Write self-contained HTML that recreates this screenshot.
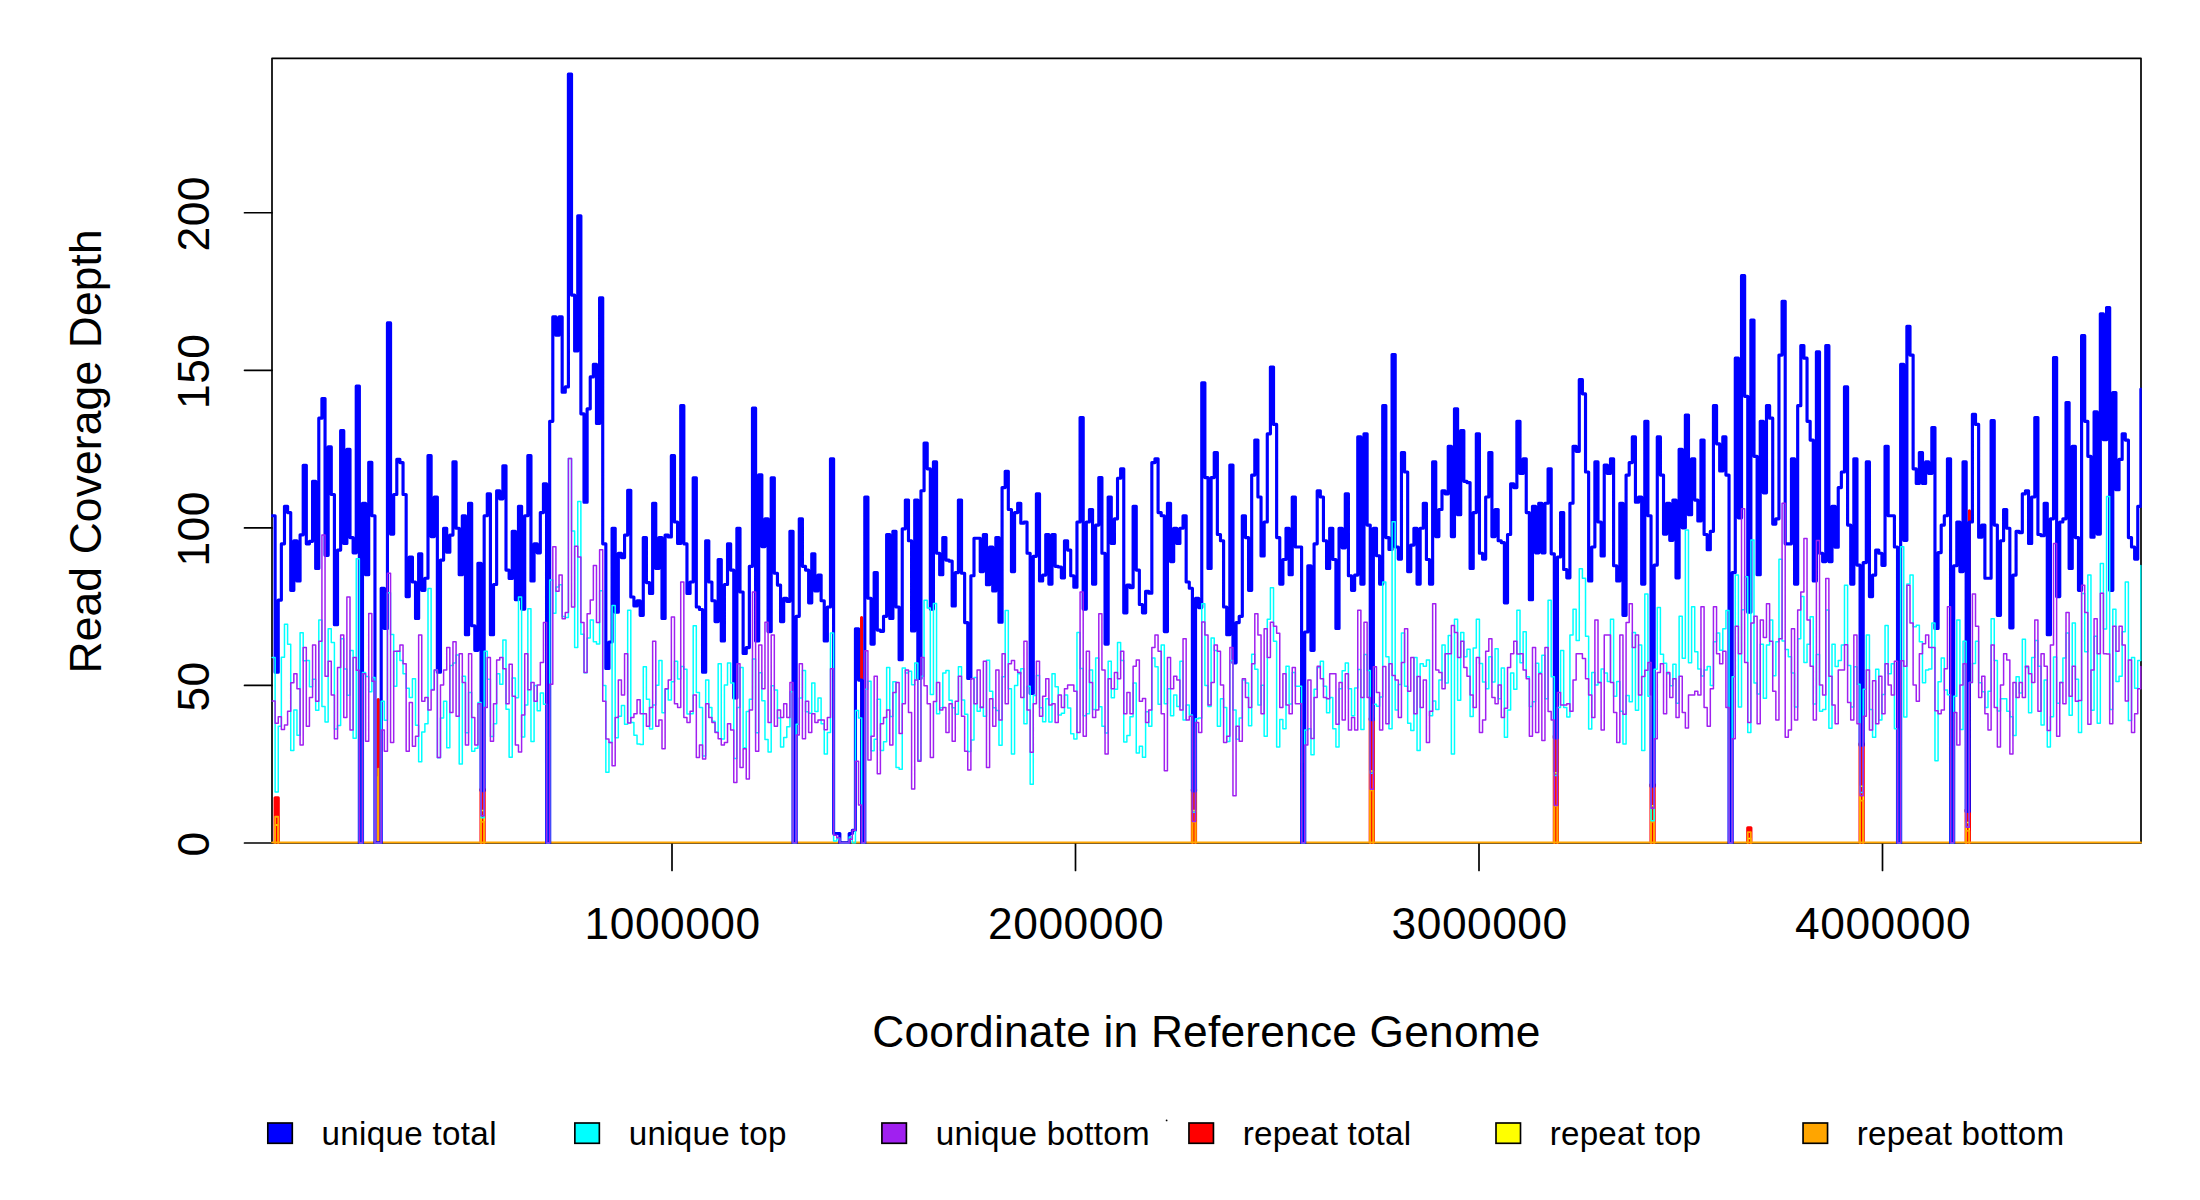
<!DOCTYPE html><html><head><meta charset="utf-8"><title>coverage</title><style>html,body{margin:0;padding:0;background:#fff}body{width:2200px;height:1200px;overflow:hidden}svg{display:block}text{font-family:"Liberation Sans",sans-serif;fill:#000}</style></head><body>
<svg width="2200" height="1200" viewBox="0 0 2200 1200">
<rect width="2200" height="1200" fill="#fff"/>
<defs><clipPath id="c"><rect x="271.20" y="57.50" width="1870.60" height="786.30"/></clipPath></defs>
<g fill="none" stroke="#000" stroke-width="1.7" stroke-linecap="round" stroke-linejoin="round">
<rect x="272.00" y="58.30" width="1869.00" height="784.70"/>
<path d="M272.00 843.00H244.50"/>
<path d="M272.00 685.44H244.50"/>
<path d="M272.00 527.88H244.50"/>
<path d="M272.00 370.31H244.50"/>
<path d="M272.00 212.75H244.50"/>
<path d="M672.00 843.00V870.50"/>
<path d="M1075.50 843.00V870.50"/>
<path d="M1479.00 843.00V870.50"/>
<path d="M1882.50 843.00V870.50"/>
</g>
<g clip-path="url(#c)" fill="none" stroke-linejoin="round" stroke-linecap="round">
<path d="M275.12 842.90V797.84 H278.24 V842.90M378.20 842.90V699.52 H378.20 V842.90M481.04 842.90V789.33 H484.16 V842.90M861.60 842.90V617.59 H861.60 V842.90M1192.40 842.90V789.33 H1195.52 V842.90M1370.24 842.90V718.43 H1373.36 V842.90M1554.32 842.90V735.76 H1557.44 V842.90M1651.04 842.90V784.60 H1654.16 V842.90M1747.76 842.90V827.77 H1750.88 V842.90M1860.08 842.90V743.64 H1863.20 V842.90M1966.16 842.90V809.81 H1969.28 V842.90M1969.40 842.90V510.76 H1969.40 V842.90" stroke="#ff0000" stroke-width="3.15"/>
<path d="M275.12 842.90V824.94 H278.24 V842.90M378.20 842.90V776.72 H378.20 V842.90M481.04 842.90V810.44 H484.16 V842.90M861.60 842.90V748.36 H861.60 V842.90M1192.40 842.90V810.44 H1195.52 V842.90M1370.24 842.90V771.05 H1373.36 V842.90M1554.32 842.90V772.63 H1557.44 V842.90M1651.04 842.90V805.72 H1654.16 V842.90M1747.76 842.90V838.49 H1750.88 V842.90M1860.08 842.90V786.18 H1863.20 V842.90M1966.16 842.90V822.42 H1969.28 V842.90" stroke="#ffff00" stroke-width="1.5"/>
<path d="M275.12 842.90V816.74 H278.24 V842.90M378.20 842.90V768.53 H378.20 V842.90M481.04 842.90V821.79 H484.16 V842.90M1192.40 842.90V821.79 H1195.52 V842.90M1370.24 842.90V790.27 H1373.36 V842.90M1554.32 842.90V806.03 H1557.44 V842.90M1651.04 842.90V821.79 H1654.16 V842.90M1747.76 842.90V832.19 H1750.88 V842.90M1860.08 842.90V800.67 H1863.20 V842.90M1966.16 842.90V830.93 H1969.28 V842.90" stroke="#ffa500" stroke-width="1.8"/>
<path d="M272.00 842.55H2141.00" stroke="#ffa500" stroke-width="2.1"/>
<path d="M272.00 515.70H275.12V672.19H278.24V600.08H281.36V543.83H284.48V506.32H287.60V512.57H290.72V590.30H293.84V540.70H296.96V580.93H300.08V534.83H303.20V465.32H306.32V543.83H309.44V541.33H312.56V481.32H315.68V568.43H318.80V418.19H321.92V398.57H325.04V555.30H328.16V446.94H331.28V494.45H334.40V624.68H337.52V550.08H340.64V430.69H343.76V543.43H346.88V449.44H350.00V537.58H353.12V552.80H356.24V385.97H359.36V842.90H362.48V503.20H365.60V574.68H368.72V462.32H371.84V515.70H374.96V842.90H378.08V842.90H381.20V588.20H384.32V628.43H387.44V322.94H390.56V534.05H393.68V494.45H396.80V459.44H399.92V462.57H403.04V494.45H406.16V596.56H409.28V556.95H412.40V581.95H415.52V618.43H418.64V553.83H421.76V590.30H424.88V578.20H428.00V455.69H431.12V536.55H434.24V496.95H437.36V672.19H440.48V560.08H443.60V528.20H446.72V552.18H449.84V535.08H452.96V461.94H456.08V528.20H459.20V574.68H462.32V515.70H465.44V634.68H468.56V503.20H471.68V625.71H474.80V650.31H477.92V563.20H481.04V790.59H484.16V515.70H487.28V493.82H490.40V634.68H493.52V584.45H496.64V490.70H499.76V498.82H502.88V465.70H506.00V570.08H509.12V578.43H512.24V531.33H515.36V599.68H518.48V506.32H521.60V609.06H524.72V515.70H527.84V455.69H530.96V580.93H534.08V543.83H537.20V552.80H540.32V512.57H543.44V483.82H546.56V842.90H549.68V421.32H552.80V316.93H555.92V335.28H559.04V316.93H562.16V392.16H565.28V386.94H568.40V74.00H571.52V295.06H574.64V350.91H577.76V215.80H580.88V413.82H584.00V502.17H587.12V408.82H590.24V376.94H593.36V364.44H596.48V423.42H599.60V297.73H602.72V543.83H605.84V668.44H608.96V641.96H612.08V528.20H615.20V612.18H618.32V553.20H621.44V557.58H624.56V535.08H627.68V490.32H630.80V596.96H633.92V605.93H637.04V600.71H640.16V615.31H643.28V537.58H646.40V582.58H649.52V593.43H652.64V503.20H655.76V568.43H658.88V537.58H662.00V618.43H665.12V535.08H668.24V536.95H671.36V455.69H674.48V521.95H677.60V543.43H680.72V405.69H683.84V543.83H686.96V593.43H690.08V581.95H693.20V477.82H696.32V606.96H699.44V609.46H702.56V672.19H705.68V540.70H708.80V581.95H711.92V600.71H715.04V621.56H718.16V559.45H721.28V640.93H724.40V584.45H727.52V543.83H730.64V570.08H733.76V697.94H736.88V528.20H740.00V591.96H743.12V653.43H746.24V647.58H749.36V566.33H752.48V408.19H755.60V640.93H758.72V474.82H761.84V546.55H764.96V518.82H768.08V631.56H771.20V477.82H774.32V573.20H777.44V585.08H780.56V621.56H783.68V598.21H786.80V601.33H789.92V531.33H793.04V842.90H796.16V616.33H799.28V518.82H802.40V566.33H805.52V570.08H808.64V602.81H811.76V553.83H814.88V590.93H818.00V575.08H821.12V600.71H824.24V640.93H827.36V606.96H830.48V458.82H833.60V833.45H836.72V833.45H839.84V842.90H842.96V842.90H846.08V842.90H849.20V833.45H852.32V830.29H855.44V628.83H858.56V680.09H861.68V842.90H864.80V496.95H867.92V598.21H871.04V644.06H874.16V572.58H877.28V630.08H880.40V631.33H883.52V616.33H886.64V534.45H889.76V618.43H892.88V531.33H896.00V606.96H899.12V659.69H902.24V528.83H905.36V500.07H908.48V540.70H911.60V630.93H914.72V500.07H917.84V678.44H920.96V490.70H924.08V443.19H927.20V468.82H930.32V609.06H933.44V461.94H936.56V553.20H939.68V574.68H942.80V537.58H945.92V560.08H949.04V561.08H952.16V605.93H955.28V572.58H958.40V500.07H961.52V573.20H964.64V622.58H967.76V678.44H970.88V575.70H974.00V538.20H977.12V538.20H980.24V571.55H983.36V534.45H986.48V584.68H989.60V546.95H992.72V590.93H995.84V537.58H998.96V622.18H1002.08V487.57H1005.20V471.32H1008.32V509.45H1011.44V571.55H1014.56V512.57H1017.68V503.20H1020.80V523.20H1023.92V521.95H1027.04V553.20H1030.16V693.44H1033.28V556.33H1036.40V493.82H1039.52V580.93H1042.64V575.08H1045.76V534.45H1048.88V584.05H1052.00V534.45H1055.12V566.33H1058.24V566.95H1061.36V577.80H1064.48V540.70H1067.60V550.08H1070.72V575.70H1073.84V587.18H1076.96V521.95H1080.08V417.57H1083.20V609.06H1086.32V521.95H1089.44V509.45H1092.56V584.05H1095.68V525.07H1098.80V477.57H1101.92V553.20H1105.04V644.06H1108.16V496.95H1111.28V543.43H1114.40V518.82H1117.52V478.20H1120.64V468.82H1123.76V612.81H1126.88V585.08H1130.00V587.58H1133.12V506.32H1136.24V570.08H1139.36V604.46H1142.48V612.81H1145.60V591.33H1148.72V593.21H1151.84V462.57H1154.96V458.82H1158.08V512.57H1161.20V515.70H1164.32V631.56H1167.44V503.20H1170.56V561.55H1173.68V528.20H1176.80V543.43H1179.92V528.20H1183.04V515.70H1186.16V581.95H1189.28V588.20H1192.40V790.90H1195.52V598.21H1198.64V607.58H1201.76V382.82H1204.88V477.57H1208.00V568.43H1211.12V477.57H1214.24V452.57H1217.36V534.45H1220.48V540.70H1223.60V606.96H1226.72V634.68H1229.84V465.07H1232.96V662.81H1236.08V622.58H1239.20V616.33H1242.32V515.70H1245.44V537.58H1248.56V590.30H1251.68V475.07H1254.80V440.07H1257.92V496.95H1261.04V555.93H1264.16V521.95H1267.28V433.82H1270.40V367.06H1273.52V424.44H1276.64V537.58H1279.76V584.05H1282.88V559.45H1286.00V528.20H1289.12V574.68H1292.24V496.95H1295.36V546.95H1298.48V546.95H1301.60V842.90H1304.72V631.96H1307.84V565.70H1310.96V650.31H1314.08V543.83H1317.20V490.70H1320.32V496.95H1323.44V540.70H1326.56V568.43H1329.68V528.20H1332.80V559.45H1335.92V628.43H1339.04V528.20H1342.16V547.80H1345.28V493.82H1348.40V575.70H1351.52V590.30H1354.64V575.08H1357.76V436.94H1360.88V584.05H1364.00V433.82H1367.12V525.07H1370.24V719.69H1373.36V528.20H1376.48V555.70H1379.60V584.05H1382.72V405.69H1385.84V537.58H1388.96V549.45H1392.08V354.46H1395.20V546.95H1398.32V559.05H1401.44V452.57H1404.56V471.95H1407.68V571.55H1410.80V545.08H1413.92V528.20H1417.04V584.05H1420.16V528.20H1423.28V503.20H1426.40V559.45H1429.52V584.05H1432.64V461.94H1435.76V536.55H1438.88V509.45H1442.00V490.70H1445.12V493.82H1448.24V446.32H1451.36V536.55H1454.48V408.82H1457.60V514.67H1460.72V430.69H1463.84V481.32H1466.96V482.57H1470.08V568.43H1473.20V512.57H1476.32V433.82H1479.44V553.20H1482.56V559.05H1485.68V496.95H1488.80V452.57H1491.92V536.55H1495.04V509.45H1498.16V540.70H1501.28V542.58H1504.40V602.81H1507.52V534.45H1510.64V483.82H1513.76V487.57H1516.88V421.32H1520.00V473.42H1523.12V458.82H1526.24V512.57H1529.36V599.68H1532.48V506.32H1535.60V552.80H1538.72V503.20H1541.84V552.80H1544.96V503.20H1548.08V468.82H1551.20V553.83H1554.32V737.96H1557.44V556.95H1560.56V512.57H1563.68V569.45H1566.80V577.80H1569.92V503.20H1573.04V446.32H1576.16V451.32H1579.28V379.67H1582.40V393.85H1585.52V471.95H1588.64V580.93H1591.76V546.95H1594.88V461.94H1598.00V521.95H1601.12V555.93H1604.24V465.07H1607.36V473.42H1610.48V458.82H1613.60V565.70H1616.72V580.93H1619.84V503.20H1622.96V615.31H1626.08V475.07H1629.20V462.57H1632.32V436.94H1635.44V502.17H1638.56V496.95H1641.68V584.05H1644.80V421.32H1647.92V515.70H1651.04V786.18H1654.16V565.08H1657.28V436.94H1660.40V475.07H1663.52V534.05H1666.64V503.20H1669.76V540.30H1672.88V500.07H1676.00V577.80H1679.12V449.44H1682.24V527.80H1685.36V415.07H1688.48V514.67H1691.60V458.82H1694.72V500.07H1697.84V520.92H1700.96V440.07H1704.08V534.45H1707.20V549.68H1710.32V531.33H1713.44V405.69H1716.56V443.82H1719.68V470.92H1722.80V436.94H1725.92V475.07H1729.04V842.90H1732.16V572.58H1735.28V358.19H1738.40V517.80H1741.52V275.68H1744.64V396.31H1747.76V612.18H1750.88V320.06H1754.00V456.32H1757.12V574.68H1760.24V421.32H1763.36V492.80H1766.48V405.69H1769.60V418.19H1772.72V524.05H1775.84V518.82H1778.96V355.06H1782.08V301.31H1785.20V543.83H1788.32V543.83H1791.44V458.82H1794.56V584.05H1797.68V405.69H1800.80V345.69H1803.92V358.19H1807.04V421.32H1810.16V440.07H1813.28V580.93H1816.40V351.94H1819.52V553.20H1822.64V561.55H1825.76V345.69H1828.88V561.55H1832.00V506.32H1835.12V547.18H1838.24V487.57H1841.36V471.95H1844.48V386.94H1847.60V525.07H1850.72V584.05H1853.84V458.82H1856.96V565.08H1860.08V745.21H1863.20V562.58H1866.32V461.94H1869.44V596.56H1872.56V575.08H1875.68V550.08H1878.80V553.20H1881.92V565.30H1885.04V446.32H1888.16V515.70H1891.28V515.70H1894.40V546.95H1897.52V842.90H1900.64V364.44H1903.76V540.30H1906.88V326.31H1910.00V355.06H1913.12V468.82H1916.24V483.42H1919.36V452.57H1922.48V483.42H1925.60V461.94H1928.72V473.42H1931.84V427.57H1934.96V628.43H1938.08V552.58H1941.20V525.07H1944.32V515.70H1947.44V458.82H1950.56V842.90H1953.68V565.70H1956.80V521.95H1959.92V571.55H1963.04V461.94H1966.16V811.39H1969.28V521.95H1972.40V414.44H1975.52V424.44H1978.64V537.18H1981.76V525.07H1984.88V578.20H1988.00V578.20H1991.12V420.69H1994.24V525.07H1997.36V615.31H2000.48V540.70H2003.60V509.45H2006.72V528.20H2009.84V627.81H2012.96V575.08H2016.08V531.33H2019.20V532.58H2022.32V493.82H2025.44V490.70H2028.56V543.43H2031.68V496.95H2034.80V417.57H2037.92V534.45H2041.04V535.70H2044.16V503.20H2047.28V634.68H2050.40V518.82H2053.52V357.56H2056.64V596.56H2059.76V521.95H2062.88V518.82H2066.00V402.57H2069.12V568.43H2072.24V446.32H2075.36V537.58H2078.48V590.30H2081.60V335.68H2084.72V421.32H2087.84V456.32H2090.96V537.18H2094.08V411.94H2097.20V534.05H2100.32V313.81H2103.44V439.67H2106.56V307.56H2109.68V590.30H2112.80V392.56H2115.92V489.67H2119.04V459.44H2122.16V433.82H2125.28V440.07H2128.40V537.58H2131.52V546.95H2134.64V559.05H2137.76V506.32H2140.88V389.12" stroke="#0000ff" stroke-width="3.15"/>
<path d="M272.00 657.51H275.12V791.93H278.24V726.13H281.36V657.27H284.48V624.33H287.60V644.33H290.72V750.57H293.84V709.96H296.96V735.19H300.08V632.83H303.20V660.84H306.32V660.59H309.44V686.84H312.56V679.34H315.68V710.19H318.80V619.96H321.92V706.45H325.04V722.07H328.16V628.71H331.28V642.46H334.40V728.94H337.52V725.59H340.64V638.71H343.76V668.94H346.88V695.24H350.00V650.58H353.12V738.32H356.24V558.66H359.36V842.90H362.48V672.46H365.60V676.44H368.72V691.73H371.84V677.46H374.96V842.90H378.08V842.90H381.20V701.21H384.32V720.19H387.44V592.69H390.56V634.56H393.68V686.21H396.80V651.21H399.92V660.59H403.04V673.71H406.16V688.31H409.28V697.46H412.40V678.71H415.52V725.19H418.64V761.81H421.76V732.07H424.88V723.72H428.00V588.59H431.12V689.56H434.24V669.96H437.36V757.69H440.48V718.09H443.60V701.21H446.72V747.69H449.84V665.59H452.96V662.99H456.08V654.96H459.20V763.94H462.32V676.21H465.44V732.69H468.56V692.46H471.68V751.22H474.80V748.32H477.92V702.46H481.04V817.69H484.16V651.21H487.28V679.34H490.40V736.44H493.52V723.72H496.64V673.71H499.76V684.34H502.88V639.96H506.00V709.34H509.12V757.19H512.24V678.09H515.36V697.69H518.48V597.10H521.60V737.07H524.72V704.96H527.84V608.76H530.96V741.44H534.08V685.59H537.20V710.81H540.32V693.09H543.44V704.34H546.56V842.90H549.68V580.09H552.80V613.15H555.92V587.05H559.04V584.79H562.16V616.43H565.28V617.46H568.40V458.45H571.52V530.93H574.64V647.52H577.76V501.62H580.88V634.33H584.00V672.69H587.12V638.08H590.24V619.96H593.36V641.75H596.48V643.93H599.60V590.80H602.72V685.59H605.84V772.31H608.96V742.47H612.08V605.41H615.20V737.69H618.32V716.21H621.44V705.59H624.56V724.34H627.68V610.34H630.80V722.47H633.92V735.19H637.04V743.95H640.16V744.57H643.28V666.84H646.40V699.34H649.52V728.94H652.64V704.96H655.76V685.19H658.88V660.59H662.00V712.69H665.12V689.34H668.24V699.96H671.36V681.64H674.48V661.21H677.60V678.94H680.72V666.61H683.84V669.34H686.96V713.94H690.08V713.71H693.20V625.83H696.32V692.46H699.44V707.46H702.56V756.01H705.68V679.96H708.80V707.46H711.92V721.22H715.04V732.07H718.16V663.71H721.28V738.94H724.40V684.96H727.52V663.09H730.64V683.09H733.76V758.45H736.88V707.46H740.00V667.46H743.12V747.69H746.24V711.55H749.36V699.34H752.48V659.03H755.60V732.69H758.72V672.84H761.84V700.81H764.96V739.41H768.08V752.07H771.20V685.80H774.32V689.96H777.44V718.09H780.56V747.07H783.68V737.47H786.80V726.84H789.92V691.84H793.04V842.90H796.16V724.34H799.28V698.09H802.40V670.59H805.52V711.84H808.64V713.31H811.76V683.09H814.88V711.44H818.00V698.09H821.12V723.72H824.24V754.03H827.36V732.47H830.48V633.08H833.60V841.06H836.72V838.69H839.84V842.90H842.96V842.90H846.08V842.90H849.20V837.11H852.32V842.90H855.44V710.59H858.56V718.09H861.68V842.90H864.80V689.17H867.92V681.21H871.04V750.82H874.16V739.34H877.28V699.34H880.40V750.59H883.52V741.84H886.64V667.46H889.76V716.44H892.88V681.84H896.00V767.47H899.12V769.16H902.24V668.09H905.36V673.09H908.48V671.21H911.60V684.82H914.72V663.09H917.84V760.19H920.96V676.21H924.08V600.25H927.20V608.08H930.32V694.56H933.44V603.40H936.56V713.71H939.68V707.69H942.80V673.09H945.92V670.59H949.04V700.34H952.16V707.69H955.28V714.34H958.40V666.84H961.52V699.96H964.64V714.34H967.76V751.44H970.88V739.97H974.00V677.46H977.12V711.21H980.24V707.06H983.36V716.21H986.48V660.19H989.60V691.21H992.72V707.69H995.84V710.59H998.96V745.19H1002.08V676.84H1005.20V610.58H1008.32V688.71H1011.44V754.03H1014.56V685.59H1017.68V673.71H1020.80V668.71H1023.92V723.72H1027.04V686.21H1030.16V784.19H1033.28V695.59H1036.40V675.59H1039.52V707.69H1042.64V721.84H1045.76V698.71H1048.88V722.07H1052.00V673.71H1055.12V686.84H1058.24V714.96H1061.36V713.31H1064.48V694.96H1067.60V708.09H1070.72V733.72H1073.84V738.94H1076.96V632.46H1080.08V668.41H1083.20V715.81H1086.32V713.71H1089.44V669.96H1092.56V709.56H1095.68V658.09H1098.80V706.67H1101.92V726.22H1105.04V732.92H1108.16V661.21H1111.28V697.69H1114.40V689.34H1117.52V642.46H1120.64V660.59H1123.76V742.07H1126.88V735.59H1130.00V716.84H1133.12V683.09H1136.24V753.09H1139.36V746.22H1142.48V757.19H1145.60V711.84H1148.72V726.22H1151.84V658.09H1154.96V666.84H1158.08V704.34H1161.20V644.96H1164.32V703.72H1167.44V688.71H1170.56V715.81H1173.68V694.96H1176.80V706.44H1179.92V661.21H1183.04V719.97H1186.16V704.96H1189.28V714.96H1192.40V812.33H1195.52V718.72H1198.64V718.09H1201.76V603.72H1204.88V685.59H1208.00V706.44H1211.12V638.08H1214.24V650.58H1217.36V726.22H1220.48V698.71H1223.60V707.46H1226.72V741.44H1229.84V660.59H1232.96V710.08H1236.08V739.34H1239.20V718.09H1242.32V679.96H1245.44V683.09H1248.56V725.82H1251.68V654.34H1254.80V669.16H1257.92V704.96H1261.04V685.19H1264.16V736.22H1267.28V619.33H1270.40V587.65H1273.52V641.21H1276.64V747.10H1279.76V719.57H1282.88V728.72H1286.00V666.21H1289.12V703.94H1292.24V672.46H1295.36V686.21H1298.48V686.21H1301.60V842.90H1304.72V729.97H1307.84V728.72H1310.96V754.66H1314.08V689.34H1317.20V667.46H1320.32V661.21H1323.44V686.21H1326.56V712.69H1329.68V697.46H1332.80V728.72H1335.92V747.10H1339.04V688.71H1342.16V670.81H1345.28V663.09H1348.40V688.71H1351.52V715.81H1354.64V688.09H1357.76V669.51H1360.88V729.57H1364.00V654.41H1367.12V670.59H1370.24V773.26H1373.36V704.23H1376.48V706.21H1379.60V697.06H1382.72V581.98H1385.84V656.84H1388.96V728.72H1392.08V521.79H1395.20V709.96H1398.32V684.56H1401.44V633.08H1404.56V686.21H1407.68V723.32H1410.80V730.59H1413.92V657.46H1417.04V750.57H1420.16V663.71H1423.28V666.21H1426.40V659.96H1429.52V715.81H1432.64V701.12H1435.76V709.56H1438.88V679.96H1442.00V644.96H1445.12V683.09H1448.24V635.58H1451.36V753.99H1454.48V619.33H1457.60V700.19H1460.72V632.46H1463.84V656.84H1466.96V649.33H1470.08V716.44H1473.20V648.08H1476.32V619.33H1479.44V663.50H1482.56V682.06H1485.68V688.71H1488.80V656.84H1491.92V682.06H1495.04V648.71H1498.16V698.71H1501.28V668.09H1504.40V737.33H1507.52V709.96H1510.64V673.09H1513.76V689.34H1516.88V610.34H1520.00V662.69H1523.12V631.83H1526.24V676.84H1529.36V706.44H1532.48V701.84H1535.60V663.31H1538.72V672.46H1541.84V655.22H1544.96V698.71H1548.08V600.25H1551.20V676.84H1554.32V775.46H1557.44V707.46H1560.56V650.58H1563.68V707.46H1566.80V717.07H1569.92V634.96H1573.04V609.33H1576.16V640.58H1579.28V568.74H1582.40V578.19H1585.52V636.21H1588.64V728.94H1591.76V672.46H1594.88V684.96H1598.00V682.46H1601.12V668.94H1604.24V673.09H1607.36V681.44H1610.48V619.33H1613.60V696.21H1616.72V681.44H1619.84V711.21H1622.96V743.95H1626.08V695.59H1629.20V701.75H1632.32V632.46H1635.44V710.19H1638.56V644.96H1641.68V750.57H1644.80V593.95H1647.92V696.21H1651.04V820.84H1654.16V669.34H1657.28V607.46H1660.40V654.34H1663.52V663.31H1666.64V673.71H1669.76V685.81H1672.88V664.34H1676.00V703.31H1679.12V616.21H1682.24V658.31H1685.36V529.98H1688.48V662.69H1691.60V606.83H1694.72V651.83H1697.84V668.94H1700.96V676.10H1704.08V669.96H1707.20V666.44H1710.32V685.59H1713.44V641.72H1716.56V633.08H1719.68V650.18H1722.80V628.71H1725.92V610.58H1729.04V842.90H1732.16V676.84H1735.28V574.95H1738.40V707.06H1741.52V609.71H1744.64V576.83H1747.76V732.61H1750.88V540.06H1754.00V683.09H1757.12V693.94H1760.24V644.33H1763.36V698.31H1766.48V644.96H1769.60V619.96H1772.72V675.81H1775.84V641.83H1778.96V559.33H1782.08V641.01H1785.20V649.39H1788.32V656.84H1791.44V673.09H1794.56V707.06H1797.68V638.71H1800.80V596.53H1803.92V662.60H1807.04V644.33H1810.16V616.83H1813.28V703.94H1816.40V654.46H1819.52V711.21H1822.64V709.56H1825.76V610.08H1828.88V728.32H1832.00V644.33H1835.12V666.44H1838.24V660.59H1841.36V644.96H1844.48V585.13H1847.60V665.59H1850.72V707.06H1853.84V666.84H1856.96V684.34H1860.08V792.48H1863.20V689.34H1866.32V634.96H1869.44V709.56H1872.56V737.33H1875.68V669.34H1878.80V719.97H1881.92V694.56H1885.04V625.58H1888.16V673.71H1891.28V663.71H1894.40V728.72H1897.52V842.90H1900.64V546.68H1903.76V717.07H1906.88V584.08H1910.00V575.04H1913.12V626.83H1916.24V625.18H1919.36V641.83H1922.48V682.69H1925.60V669.96H1928.72V668.94H1931.84V623.08H1934.96V760.65H1938.08V681.84H1941.20V658.09H1944.32V689.96H1947.44V694.85H1950.56V842.90H1953.68V696.21H1956.80V619.96H1959.92V729.57H1963.04V641.21H1966.16V827.14H1969.28V682.46H1972.40V663.39H1975.52V641.21H1978.64V682.69H1981.76V691.84H1984.88V707.46H1988.00V691.21H1991.12V618.71H1994.24V660.59H1997.36V711.10H2000.48V698.71H2003.60V698.71H2006.72V711.21H2009.84V716.67H2012.96V735.59H2016.08V676.84H2019.20V693.09H2022.32V639.33H2025.44V667.46H2028.56V712.69H2031.68V657.46H2034.80V640.58H2037.92V666.21H2041.04V724.97H2044.16V679.96H2047.28V747.10H2050.40V716.84H2053.52V656.93H2056.64V703.31H2059.76V682.46H2062.88V658.09H2066.00V633.08H2069.12V715.19H2072.24V623.08H2075.36V679.34H2078.48V732.61H2081.60V593.46H2084.72V651.83H2087.84V575.04H2090.96V710.19H2094.08V636.21H2097.20V723.32H2100.32V563.38H2103.44V628.93H2106.56V496.58H2109.68V709.56H2112.80V609.33H2115.92V681.44H2119.04V676.21H2122.16V631.83H2125.28V581.98H2128.40V720.59H2131.52V657.46H2134.64V688.31H2137.76V660.59H2140.88V565.59" stroke="#00ffff" stroke-width="1.5"/>
<path d="M272.00 701.09H275.12V723.15H278.24V716.85H281.36V729.45H284.48V724.89H287.60V711.14H290.72V682.64H293.84V673.64H296.96V688.64H300.08V744.89H303.20V647.38H306.32V726.14H309.44V697.39H312.56V644.88H315.68V701.14H318.80V641.13H321.92V535.02H325.04V676.14H328.16V661.14H331.28V694.89H334.40V738.64H337.52V667.39H340.64V634.88H343.76V717.39H346.88V597.10H350.00V729.89H353.12V657.39H356.24V670.21H359.36V842.90H362.48V673.64H365.60V741.14H368.72V613.49H371.84V681.14H374.96V842.90H378.08V842.90H381.20V729.89H384.32V751.14H387.44V573.15H390.56V742.39H393.68V651.13H396.80V651.13H399.92V644.88H403.04V663.64H406.16V751.14H409.28V702.39H412.40V746.14H415.52V736.14H418.64V634.92H421.76V701.14H424.88V697.39H428.00V710.00H431.12V689.89H434.24V669.89H437.36V757.39H440.48V684.89H443.60V669.89H446.72V647.38H449.84V712.39H452.96V641.85H456.08V716.14H459.20V653.63H462.32V682.39H465.44V744.89H468.56V653.63H471.68V717.39H474.80V744.89H477.92V703.64H481.04V815.80H484.16V707.39H487.28V657.39H490.40V741.14H493.52V703.64H496.64V659.89H499.76V657.39H502.88V668.64H506.00V703.64H509.12V664.14H512.24V696.14H515.36V744.89H518.48V752.12H521.60V714.89H524.72V653.63H527.84V689.83H530.96V682.39H534.08V701.14H537.20V684.89H540.32V662.39H543.44V622.38H546.56V842.90H549.68V684.13H552.80V546.68H555.92V591.13H559.04V575.04H562.16V618.63H565.28V612.38H568.40V458.45H571.52V607.03H574.64V546.29H577.76V557.08H580.88V622.38H584.00V672.39H587.12V613.63H590.24V599.88H593.36V565.59H596.48V622.38H599.60V549.83H602.72V701.14H605.84V739.02H608.96V742.39H612.08V765.69H615.20V717.39H618.32V679.89H621.44V694.89H624.56V653.63H627.68V722.88H630.80V717.39H633.92V713.64H637.04V699.66H640.16V713.64H643.28V713.64H646.40V726.14H649.52V707.39H652.64V641.13H655.76V726.14H658.88V719.89H662.00V748.64H665.12V688.64H668.24V679.89H671.36V616.96H674.48V703.64H677.60V707.39H680.72V581.98H683.84V717.39H686.96V722.39H690.08V711.14H693.20V694.89H696.32V757.39H699.44V744.89H702.56V759.08H705.68V703.64H708.80V717.39H711.92V722.39H715.04V732.39H718.16V738.64H721.28V744.89H724.40V742.39H727.52V723.64H730.64V729.89H733.76V782.40H736.88V663.64H740.00V767.39H743.12V748.64H746.24V778.93H749.36V709.89H752.48V592.06H755.60V751.14H758.72V644.88H761.84V688.64H764.96V622.31H768.08V722.39H771.20V634.92H774.32V726.14H777.44V709.89H780.56V717.39H783.68V703.64H786.80V717.39H789.92V682.39H793.04V842.90H796.16V734.89H799.28V663.64H802.40V738.64H805.52V701.14H808.64V732.39H811.76V713.64H814.88V722.39H818.00V719.89H821.12V719.89H824.24V729.80H827.36V717.39H830.48V668.64H833.60V835.28H836.72V837.66H839.84V842.90H842.96V842.90H846.08V842.90H849.20V839.24H852.32V830.29H855.44V761.14H858.56V804.90H861.68V842.90H864.80V650.67H867.92V759.89H871.04V736.14H874.16V676.14H877.28V773.64H880.40V723.64H883.52V717.39H886.64V709.89H889.76V744.89H892.88V692.39H896.00V682.39H899.12V733.42H902.24V703.64H905.36V669.89H908.48V712.39H911.60V789.01H914.72V679.89H917.84V761.14H920.96V657.39H924.08V685.84H927.20V703.64H930.32V757.39H933.44V701.44H936.56V682.39H939.68V709.89H942.80V707.39H945.92V732.39H949.04V703.64H952.16V741.14H955.28V701.14H958.40V676.14H961.52V716.14H964.64V751.14H967.76V769.89H970.88V678.64H974.00V703.64H977.12V669.89H980.24V707.39H983.36V661.14H986.48V767.39H989.60V698.64H992.72V726.14H995.84V669.89H998.96V719.89H1002.08V653.63H1005.20V703.64H1008.32V663.64H1011.44V660.42H1014.56V669.89H1017.68V672.39H1020.80V697.39H1023.92V641.13H1027.04V709.89H1030.16V752.14H1033.28V703.64H1036.40V661.14H1039.52V716.14H1042.64V696.14H1045.76V678.64H1048.88V704.89H1052.00V703.64H1055.12V722.39H1058.24V694.89H1061.36V707.39H1064.48V688.64H1067.60V684.89H1070.72V684.89H1073.84V691.14H1076.96V732.39H1080.08V592.06H1083.20V736.14H1086.32V651.13H1089.44V682.39H1092.56V717.39H1095.68V709.89H1098.80V613.80H1101.92V669.89H1105.04V754.03H1108.16V678.64H1111.28V688.64H1114.40V672.39H1117.52V678.64H1120.64V651.13H1123.76V713.64H1126.88V692.39H1130.00V713.64H1133.12V666.14H1136.24V659.89H1139.36V701.14H1142.48V698.52H1145.60V722.39H1148.72V709.89H1151.84V647.38H1154.96V634.88H1158.08V651.13H1161.20V713.64H1164.32V770.74H1167.44V657.39H1170.56V688.64H1173.68V676.14H1176.80V679.89H1179.92V709.89H1183.04V638.63H1186.16V719.89H1189.28V716.14H1192.40V821.47H1195.52V722.39H1198.64V732.39H1201.76V622.00H1204.88V634.88H1208.00V704.89H1211.12V682.39H1214.24V644.88H1217.36V651.13H1220.48V684.89H1223.60V742.39H1226.72V736.14H1229.84V647.38H1232.96V795.63H1236.08V726.14H1239.20V741.14H1242.32V678.64H1245.44V697.39H1248.56V707.39H1251.68V663.64H1254.80V613.80H1257.92V634.88H1261.04V713.64H1264.16V628.63H1267.28V657.39H1270.40V622.31H1273.52V626.13H1276.64V633.37H1279.76V707.39H1282.88V673.64H1286.00V704.89H1289.12V713.64H1292.24V667.39H1295.36V703.64H1298.48V703.64H1301.60V842.90H1304.72V744.89H1307.84V679.89H1310.96V738.54H1314.08V697.39H1317.20V666.14H1320.32V678.64H1323.44V697.39H1326.56V698.64H1329.68V673.64H1332.80V673.64H1335.92V724.23H1339.04V682.39H1342.16V719.89H1345.28V673.64H1348.40V729.89H1351.52V717.39H1354.64V729.89H1357.76V610.34H1360.88V697.39H1364.00V622.31H1367.12V697.39H1370.24V789.33H1373.36V666.87H1376.48V692.39H1379.60V729.89H1382.72V666.61H1385.84V723.64H1388.96V663.64H1392.08V675.57H1395.20V679.89H1398.32V717.39H1401.44V662.39H1404.56V628.63H1407.68V691.14H1410.80V657.39H1413.92V713.64H1417.04V676.39H1420.16V707.39H1423.28V679.89H1426.40V742.39H1429.52V711.14H1432.64V603.72H1435.76V669.89H1438.88V672.39H1442.00V688.64H1445.12V653.63H1448.24V653.63H1451.36V625.46H1454.48V632.38H1457.60V657.39H1460.72V641.13H1463.84V667.39H1466.96V676.14H1470.08V694.89H1473.20V707.39H1476.32V657.39H1479.44V732.61H1482.56V719.89H1485.68V651.13H1488.80V638.63H1491.92V697.39H1495.04V703.64H1498.16V684.89H1501.28V717.39H1504.40V708.37H1507.52V667.39H1510.64V653.63H1513.76V641.13H1516.88V653.88H1520.00V653.63H1523.12V669.89H1526.24V678.64H1529.36V736.14H1532.48V647.38H1535.60V732.39H1538.72V673.64H1541.84V740.48H1544.96V647.38H1548.08V711.47H1551.20V719.89H1554.32V805.40H1557.44V692.39H1560.56V704.89H1563.68V704.89H1566.80V703.64H1569.92V711.14H1573.04V679.89H1576.16V653.63H1579.28V653.83H1582.40V658.55H1585.52V678.64H1588.64V694.89H1591.76V717.39H1594.88V619.88H1598.00V682.39H1601.12V729.89H1604.24V634.88H1607.36V634.88H1610.48V682.39H1613.60V712.39H1616.72V742.39H1619.84V634.88H1622.96V714.26H1626.08V622.38H1629.20V603.72H1632.32V647.38H1635.44V634.88H1638.56V694.89H1641.68V676.39H1644.80V670.27H1647.92V662.39H1651.04V808.24H1654.16V738.64H1657.28V672.39H1660.40V663.64H1663.52V713.64H1666.64V672.39H1669.76V697.39H1672.88V678.64H1676.00V717.39H1679.12V676.14H1682.24V712.39H1685.36V727.99H1688.48V694.89H1691.60V694.89H1694.72V691.14H1697.84V694.89H1700.96V606.87H1704.08V707.39H1707.20V726.14H1710.32V688.64H1713.44V606.87H1716.56V653.63H1719.68V663.64H1722.80V651.13H1725.92V707.39H1729.04V842.90H1732.16V738.64H1735.28V626.13H1738.40V653.63H1741.52V508.87H1744.64V662.39H1747.76V722.48H1750.88V622.89H1754.00V616.13H1757.12V723.64H1760.24V619.88H1763.36V637.38H1766.48V603.63H1769.60V641.13H1772.72V691.14H1775.84V719.89H1778.96V638.63H1782.08V503.20H1785.20V737.33H1788.32V729.89H1791.44V628.63H1794.56V719.89H1797.68V609.88H1800.80V592.06H1803.92V538.49H1807.04V619.88H1810.16V666.14H1813.28V719.89H1816.40V540.38H1819.52V684.89H1822.64V694.89H1825.76V578.51H1828.88V676.14H1832.00V704.89H1835.12V723.64H1838.24V669.89H1841.36V669.89H1844.48V644.71H1847.60V702.39H1850.72V719.89H1853.84V634.88H1856.96V723.64H1860.08V795.63H1863.20V716.14H1866.32V669.89H1869.44V729.89H1872.56V680.65H1875.68V723.64H1878.80V676.14H1881.92V713.64H1885.04V663.64H1888.16V684.89H1891.28V694.89H1894.40V661.14H1897.52V842.90H1900.64V660.65H1903.76V666.14H1906.88V585.13H1910.00V622.92H1913.12V684.89H1916.24V701.14H1919.36V653.63H1922.48V643.63H1925.60V634.88H1928.72V647.38H1931.84V647.38H1934.96V710.68H1938.08V713.64H1941.20V709.89H1944.32V668.64H1947.44V606.87H1950.56V842.90H1953.68V712.39H1956.80V744.89H1959.92V684.89H1963.04V663.64H1966.16V827.14H1969.28V682.39H1972.40V593.95H1975.52V626.13H1978.64V697.39H1981.76V676.14H1984.88V713.64H1988.00V729.89H1991.12V644.88H1994.24V707.39H1997.36V747.10H2000.48V684.89H2003.60V653.63H2006.72V659.89H2009.84V754.03H2012.96V682.39H2016.08V697.39H2019.20V682.39H2022.32V697.39H2025.44V666.14H2028.56V673.64H2031.68V682.39H2034.80V619.88H2037.92V711.14H2041.04V653.63H2044.16V666.14H2047.28V730.48H2050.40V644.88H2053.52V543.53H2056.64V736.14H2059.76V682.39H2062.88V703.64H2066.00V612.38H2069.12V696.14H2072.24V666.14H2075.36V701.14H2078.48V700.60H2081.60V585.13H2084.72V612.38H2087.84V724.18H2090.96V669.89H2094.08V618.63H2097.20V653.63H2100.32V593.32H2103.44V653.63H2106.56V653.88H2109.68V723.64H2112.80V626.13H2115.92V651.13H2119.04V626.13H2122.16V644.88H2125.28V700.99H2128.40V659.89H2131.52V732.39H2134.64V713.64H2137.76V688.64H2140.88V666.43" stroke="#a020f0" stroke-width="1.5"/>
</g>
<text transform="translate(208.6 844.00) rotate(-90)" text-anchor="middle" font-size="44.3" letter-spacing="0.45">0</text>
<text transform="translate(208.6 686.44) rotate(-90)" text-anchor="middle" font-size="44.3" letter-spacing="0.45">50</text>
<text transform="translate(208.6 528.88) rotate(-90)" text-anchor="middle" font-size="44.3" letter-spacing="0.45">100</text>
<text transform="translate(208.6 371.31) rotate(-90)" text-anchor="middle" font-size="44.3" letter-spacing="0.45">150</text>
<text transform="translate(208.6 213.75) rotate(-90)" text-anchor="middle" font-size="44.3" letter-spacing="0.45">200</text>
<text x="672.60" y="939.3" text-anchor="middle" font-size="44.3" letter-spacing="0.5">1000000</text>
<text x="1076.10" y="939.3" text-anchor="middle" font-size="44.3" letter-spacing="0.5">2000000</text>
<text x="1479.60" y="939.3" text-anchor="middle" font-size="44.3" letter-spacing="0.5">3000000</text>
<text x="1883.10" y="939.3" text-anchor="middle" font-size="44.3" letter-spacing="0.5">4000000</text>
<text x="1206.5" y="1047" text-anchor="middle" font-size="44.3" letter-spacing="0.2">Coordinate in Reference Genome</text>
<text transform="translate(101.3 451.3) rotate(-90)" text-anchor="middle" font-size="44.3" letter-spacing="0.19">Read Coverage Depth</text>
<rect x="267.80" y="1123" width="24.5" height="20.3" fill="#0000ff" stroke="#000" stroke-width="1.65"/>
<text x="321.60" y="1144.6" font-size="33.2" letter-spacing="0.30">unique total</text>
<rect x="574.85" y="1123" width="24.5" height="20.3" fill="#00ffff" stroke="#000" stroke-width="1.65"/>
<text x="628.65" y="1144.6" font-size="33.2" letter-spacing="0.30">unique top</text>
<rect x="881.90" y="1123" width="24.5" height="20.3" fill="#a020f0" stroke="#000" stroke-width="1.65"/>
<text x="935.70" y="1144.6" font-size="33.2" letter-spacing="0.30">unique bottom</text>
<rect x="1188.95" y="1123" width="24.5" height="20.3" fill="#ff0000" stroke="#000" stroke-width="1.65"/>
<text x="1242.75" y="1144.6" font-size="33.2" letter-spacing="0.20">repeat total</text>
<rect x="1496.00" y="1123" width="24.5" height="20.3" fill="#ffff00" stroke="#000" stroke-width="1.65"/>
<text x="1549.80" y="1144.6" font-size="33.2" letter-spacing="0.20">repeat top</text>
<rect x="1803.05" y="1123" width="24.5" height="20.3" fill="#ffa500" stroke="#000" stroke-width="1.65"/>
<text x="1856.85" y="1144.6" font-size="33.2" letter-spacing="0.20">repeat bottom</text>
<circle cx="1166.6" cy="1120.4" r="0.9" fill="#000"/>
</svg></body></html>
